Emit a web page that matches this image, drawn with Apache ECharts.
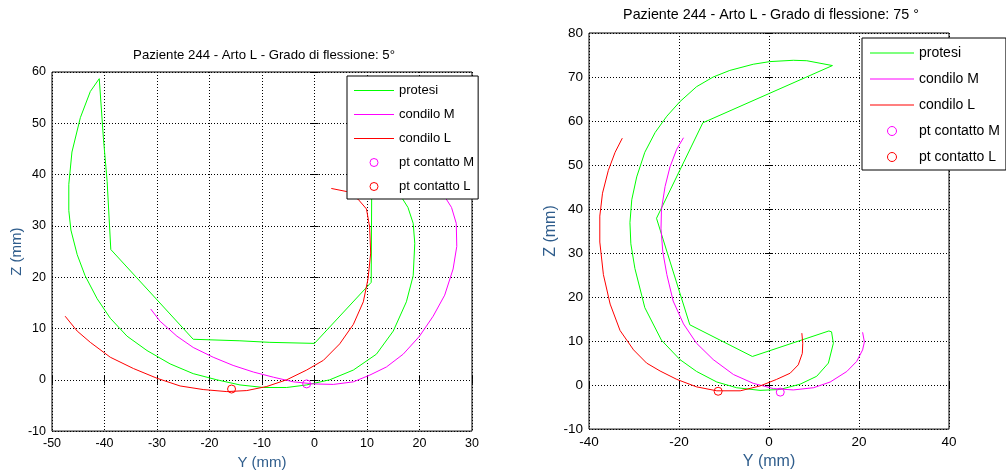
<!DOCTYPE html>
<html>
<head>
<meta charset="utf-8">
<script src="https://cdn.jsdelivr.net/npm/echarts@6/dist/echarts.min.js"></script>
<style>
html,body{margin:0;padding:0;background:#fff;}
#c{width:1006px;height:475px;}
</style>
</head>
<body>
<div id="c"></div>
<script>
// ---------- DATA ----------
var titleL = 'Paziente 244 - Arto L - Grado di flessione: 5°';
var titleR = 'Paziente 244 - Arto L - Grado di flessione: 75 °';
var seriesNames = ['protesi', 'condilo M', 'condilo L', 'pt contatto M', 'pt contatto L'];
var xTicksL = [-50, -40, -30, -20, -10, 0, 10, 20, 30];
var yTicksL = [-10, 0, 10, 20, 30, 40, 50, 60];
var xTicksR = [-40, -20, 0, 20, 40];
var yTicksR = [-10, 0, 10, 20, 30, 40, 50, 60, 70, 80];

var protesiL = [[-41.0,58.7],[-42.7,56.2],[-44.6,51.1],[-46.2,44.4],[-46.8,38.1],[-46.8,33.0],[-46.4,29.2],[-45.2,24.4],[-43.7,20.3],[-41.4,15.8],[-38.9,12.0],[-35.7,8.5],[-31.9,5.7],[-27.5,3.1],[-23.1,1.2],[-18.6,0.0],[-14.2,-1.0],[-9.7,-1.5],[-5.3,-1.5],[-1.5,-1.0],[2.9,0.0],[7.4,1.9],[11.8,5.0],[15.0,9.5],[17.5,15.2],[18.8,20.3],[19.1,26.6],[18.8,30.5],[17.8,33.6],[16.2,36.2],[14.3,37.4],[11.8,38.1],[10.9,37.6],[10.8,19.0],[0.0,7.1],[-8.5,7.3],[-14.2,7.6],[-23.1,7.9],[-38.8,25.4],[-39.5,38.7],[-40.2,47.0],[-41.0,58.7]];
var condMLeft = [[-31.2,13.8],[-29.4,11.4],[-26.2,8.5],[-23.1,6.3],[-19.3,4.4],[-15.5,2.8],[-11.6,1.5],[-7.8,0.5],[-4.0,-0.4],[-0.2,-0.8],[3.6,-0.9],[7.4,-0.4],[10.5,0.9],[13.7,2.5],[16.9,5.0],[20.0,8.5],[22.6,12.4],[24.8,16.5],[26.4,21.6],[27.1,26.0],[27.0,30.5],[26.1,33.6],[24.5,36.2],[22.6,38.1],[19.7,38.8]];
var condLLeft = [[-47.5,12.4],[-45.2,9.5],[-42.7,7.3],[-38.9,4.4],[-34.5,2.2],[-30.0,0.3],[-25.6,-1.2],[-21.2,-1.9],[-16.7,-2.3],[-12.9,-2.1],[-9.1,-1.3],[-5.3,0.0],[-1.5,1.9],[1.7,3.8],[4.8,7.0],[7.4,10.8],[9.3,15.2],[10.2,19.7],[10.7,24.7],[10.5,29.8],[9.9,33.3],[8.3,35.2],[6.1,36.7],[3.2,37.3]];
var ptMLeft = [[-1.5,-0.8]];
var ptLLeft = [[-15.8,-1.8]];

var protesiR = [[14.1,72.6],[8.4,73.7],[5.4,73.8],[0.2,73.5],[-3.5,72.9],[-8.7,71.5],[-12.4,70.0],[-16.1,67.8],[-19.8,64.4],[-22.7,61.1],[-25.3,57.4],[-27.6,52.9],[-29.4,47.3],[-30.5,42.1],[-30.9,36.9],[-30.7,32.1],[-29.8,26.5],[-27.6,17.6],[-23.9,10.2],[-19.8,5.8],[-16.1,3.1],[-11.6,0.7],[-7.2,-0.6],[-2.0,-1.2],[2.4,-1.0],[6.9,0.2],[10.6,2.0],[13.2,5.0],[14.3,9.5],[13.9,12.1],[13.3,12.3],[-3.7,6.5],[-17.6,13.7],[-25.0,37.9],[-14.7,59.6],[14.1,72.6]];
var condMRight = [[-19.0,56.2],[-20.5,53.6],[-22.0,49.6],[-23.1,45.1],[-23.9,39.9],[-24.0,35.5],[-23.6,30.3],[-22.7,25.1],[-21.3,19.1],[-19.0,13.9],[-16.1,9.5],[-12.4,5.8],[-7.9,2.4],[-3.5,0.4],[1.0,-0.8],[5.4,-1.1],[9.9,-0.6],[13.6,0.7],[17.3,3.1],[19.5,5.4],[20.8,8.0],[21.2,9.8],[20.8,12.0]];
var condLRight = [[-32.6,56.1],[-34.2,52.9],[-35.7,48.8],[-37.0,43.6],[-37.6,38.4],[-37.6,32.5],[-36.8,25.1],[-35.3,18.4],[-33.1,12.4],[-30.1,8.0],[-27.2,5.0],[-24.2,3.2],[-20.5,1.3],[-16.1,-0.4],[-11.6,-1.3],[-6.4,-1.3],[-2.0,-0.2],[1.7,1.3],[4.7,2.7],[6.5,4.6],[7.4,7.2],[7.5,9.5],[7.3,11.8]];
var ptMRight = [[2.5,-1.6]];
var ptLRight = [[-11.3,-1.4]];

// ---------- STYLE ----------
var FONT = '"Liberation Sans", Arial, sans-serif';
var seriesColors = ['#00ff00', '#ff00ff', '#ff0000', '#ff00ff', '#ff0000'];
var nameColor = '#2f5d8c';

function mk(arr){ return {min: arr[0], max: arr[arr.length-1], interval: arr[1]-arr[0]}; }

function axisPair(ticks, gridIndex, dim, fs, nameGap) {
  var r = mk(ticks);
  var main = {
    type: 'value', gridIndex: gridIndex, min: r.min, max: r.max, interval: r.interval,
    position: dim === 'x' ? 'bottom' : 'left',
    name: dim === 'x' ? 'Y (mm)' : 'Z (mm)',
    nameLocation: 'middle', nameGap: nameGap,
    nameTextStyle: {color: nameColor, fontSize: fs + 2.5, fontFamily: FONT},
    axisLine: {show: false},
    axisTick: {show: true, inside: true, length: 4, lineStyle: {color: '#000'}},
    axisLabel: {show: true, color: '#000', fontSize: fs, fontFamily: FONT, margin: 6, showMinLabel: true, showMaxLabel: true},
    splitLine: {show: true, lineStyle: {color: '#000', type: [1, 2], width: 1}}
  };
  var other = {
    type: 'value', gridIndex: gridIndex, min: r.min, max: r.max, interval: r.interval,
    position: dim === 'x' ? 'top' : 'right',
    axisLine: {show: false},
    axisTick: {show: true, inside: true, length: 4, lineStyle: {color: '#000'}},
    axisLabel: {show: false},
    splitLine: {show: false}
  };
  return [main, other];
}

var xL = axisPair(xTicksL, 0, 'x', 12.5, 18);
var yL = axisPair(yTicksL, 0, 'y', 12.5, 26);
var xR = axisPair(xTicksR, 1, 'x', 13.5, 17);
var yR = axisPair(yTicksR, 1, 'y', 13.5, 30);

function lineS(name, data, color, xi, yi) {
  return {type: 'line', name: name, data: data, xAxisIndex: xi, yAxisIndex: yi,
    symbol: 'none', showSymbol: false, smooth: false, clip: false,
    lineStyle: {color: color, width: 1}, itemStyle: {color: color}, z: 3};
}
function ptS(name, data, color, xi, yi) {
  return {type: 'scatter', name: name, data: data, xAxisIndex: xi, yAxisIndex: yi,
    symbol: 'circle', symbolSize: 8,
    itemStyle: {color: 'rgba(255,255,255,0)', borderColor: color, borderWidth: 1, opacity: 1}, z: 4};
}

function legendData(iw) {
  return seriesNames.map(function (n, i) {
    var c = seriesColors[i];
    if (i < 3) {
      return {name: n, icon: 'path://M0,0H' + iw + 'V1H0Z',
        itemStyle: {color: c, borderColor: c, borderWidth: 0, opacity: 1}};
    }
    return {name: n, icon: 'circle',
      itemStyle: {color: 'rgba(255,255,255,0)', borderColor: c, borderWidth: 1, opacity: 1}};
  });
}

function legendBox(left, top, fs, ih, gap, iw, pad) {
  return {
    orient: 'vertical', left: left, top: top, selectedMode: false,
    itemWidth: iw, itemHeight: ih, itemGap: gap,
    padding: pad, backgroundColor: '#fff', borderColor: '#000', borderWidth: 1, borderRadius: 0,
    textStyle: {color: '#000', fontSize: fs, fontFamily: FONT},
    data: legendData(iw)
  };
}

var option = {
  animation: false,
  backgroundColor: '#fff',
  title: [
    {text: titleL, left: 264, top: 49, textAlign: 'center', padding: 0,
     textStyle: {fontSize: 13.2, fontWeight: 'normal', color: '#000', fontFamily: FONT}},
    {text: titleR, left: 771, top: 8, textAlign: 'center', padding: 0,
     textStyle: {fontSize: 14.3, fontWeight: 'normal', color: '#000', fontFamily: FONT}}
  ],
  grid: [
    {left: 52, top: 72, width: 420, height: 367, show: true, borderColor: '#000', borderWidth: 1, backgroundColor: 'transparent', containLabel: false},
    {left: 589, top: 33, width: 360, height: 404, show: true, borderColor: '#000', borderWidth: 1, backgroundColor: 'transparent', containLabel: false}
  ],
  xAxis: [xL[0], xL[1], xR[0], xR[1]],
  yAxis: [yL[0], yL[1], yR[0], yR[1]],
  legend: [
    legendBox(347, 76, 13, 8, 11, 40, [8, 4, 6, 7]),
    legendBox(862, 38, 14, 9, 12, 44, [8, 6, 6, 8])
  ],
  series: [
    lineS('protesi', protesiL, seriesColors[0], 0, 0),
    lineS('condilo M', condMLeft, seriesColors[1], 0, 0),
    lineS('condilo L', condLLeft, seriesColors[2], 0, 0),
    ptS('pt contatto M', ptMLeft, seriesColors[3], 0, 0),
    ptS('pt contatto L', ptLLeft, seriesColors[4], 0, 0),
    lineS('protesi', protesiR, seriesColors[0], 2, 2),
    lineS('condilo M', condMRight, seriesColors[1], 2, 2),
    lineS('condilo L', condLRight, seriesColors[2], 2, 2),
    ptS('pt contatto M', ptMRight, seriesColors[3], 2, 2),
    ptS('pt contatto L', ptLRight, seriesColors[4], 2, 2)
  ]
};

var chart = echarts.init(document.getElementById('c'), null, {renderer: 'canvas'});
chart.setOption(option);
</script>
</body>
</html>
